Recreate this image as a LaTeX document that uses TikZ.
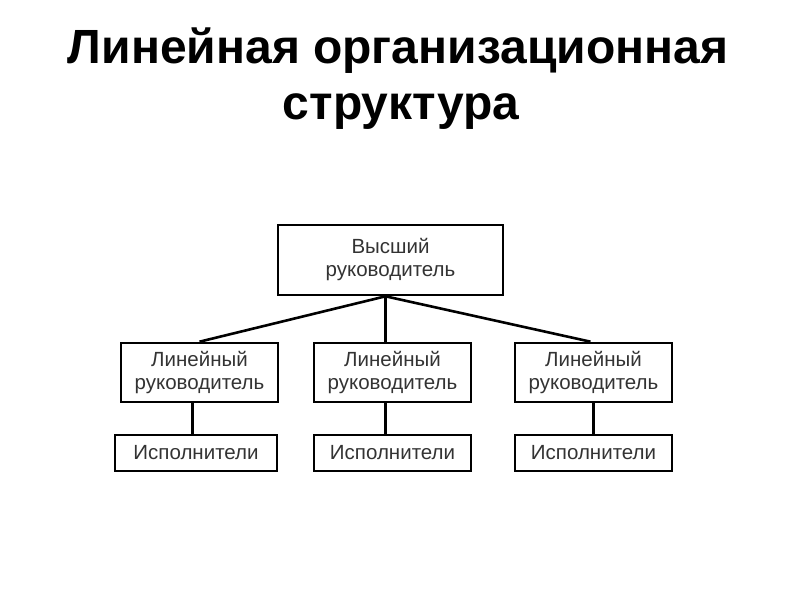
\documentclass[tikz,border=0pt]{standalone}
\usepackage{fontspec}
\setmainfont{Liberation Sans}
\definecolor{txt}{HTML}{333333}
\tikzset{
  box/.style={draw=black, line width=2.6pt, inner sep=0pt, align=center,
    font=\fontsize{20.5}{23}\selectfont, text=txt},
  link/.style={line width=2.6pt, draw=black},
  ttl/.style={font=\fontsize{48}{52}\selectfont\bfseries, align=center, text=black, inner sep=0pt}
}
\begin{document}
\begin{tikzpicture}[x=1pt,y=-1pt]
\useasboundingbox (0,0) rectangle (800,600);
\node[ttl, anchor=base] (t1) at (398,63) {Линейная организационная};
\node[ttl, anchor=base] (t2) at (401,119) {структура};

\node[box, minimum width=225pt, minimum height=70pt] (top) at (390.5,260) {Высший\\руководитель};

\node[box, minimum width=157pt, minimum height=59pt] (m1) at (199.5,372.5) {Линейный\\руководитель};
\node[box, minimum width=157pt, minimum height=59pt] (m2) at (392.5,372.5) {Линейный\\руководитель};
\node[box, minimum width=157pt, minimum height=59pt] (m3) at (593.5,372.5) {Линейный\\руководитель};

\node[box, minimum width=162pt, minimum height=36pt] (b1) at (196,453) {Исполнители};
\node[box, minimum width=157pt, minimum height=36pt] (b2) at (392.5,453) {Исполнители};
\node[box, minimum width=157pt, minimum height=36pt] (b3) at (593.5,453) {Исполнители};

\draw[link] ([xshift=-5pt]top.south) -- (m1.north);
\draw[link] ([xshift=-5pt]top.south) -- ([xshift=-7pt]m2.north);
\draw[link] ([xshift=-5pt]top.south) -- ([xshift=-3pt]m3.north);

\draw[link] ([xshift=-7pt]m1.south) -- ([xshift=-3.5pt]b1.north);
\draw[link] ([xshift=-7pt]m2.south) -- ([xshift=-7pt]b2.north);
\draw[link] (m3.south) -- (b3.north);
\end{tikzpicture}
\end{document}
